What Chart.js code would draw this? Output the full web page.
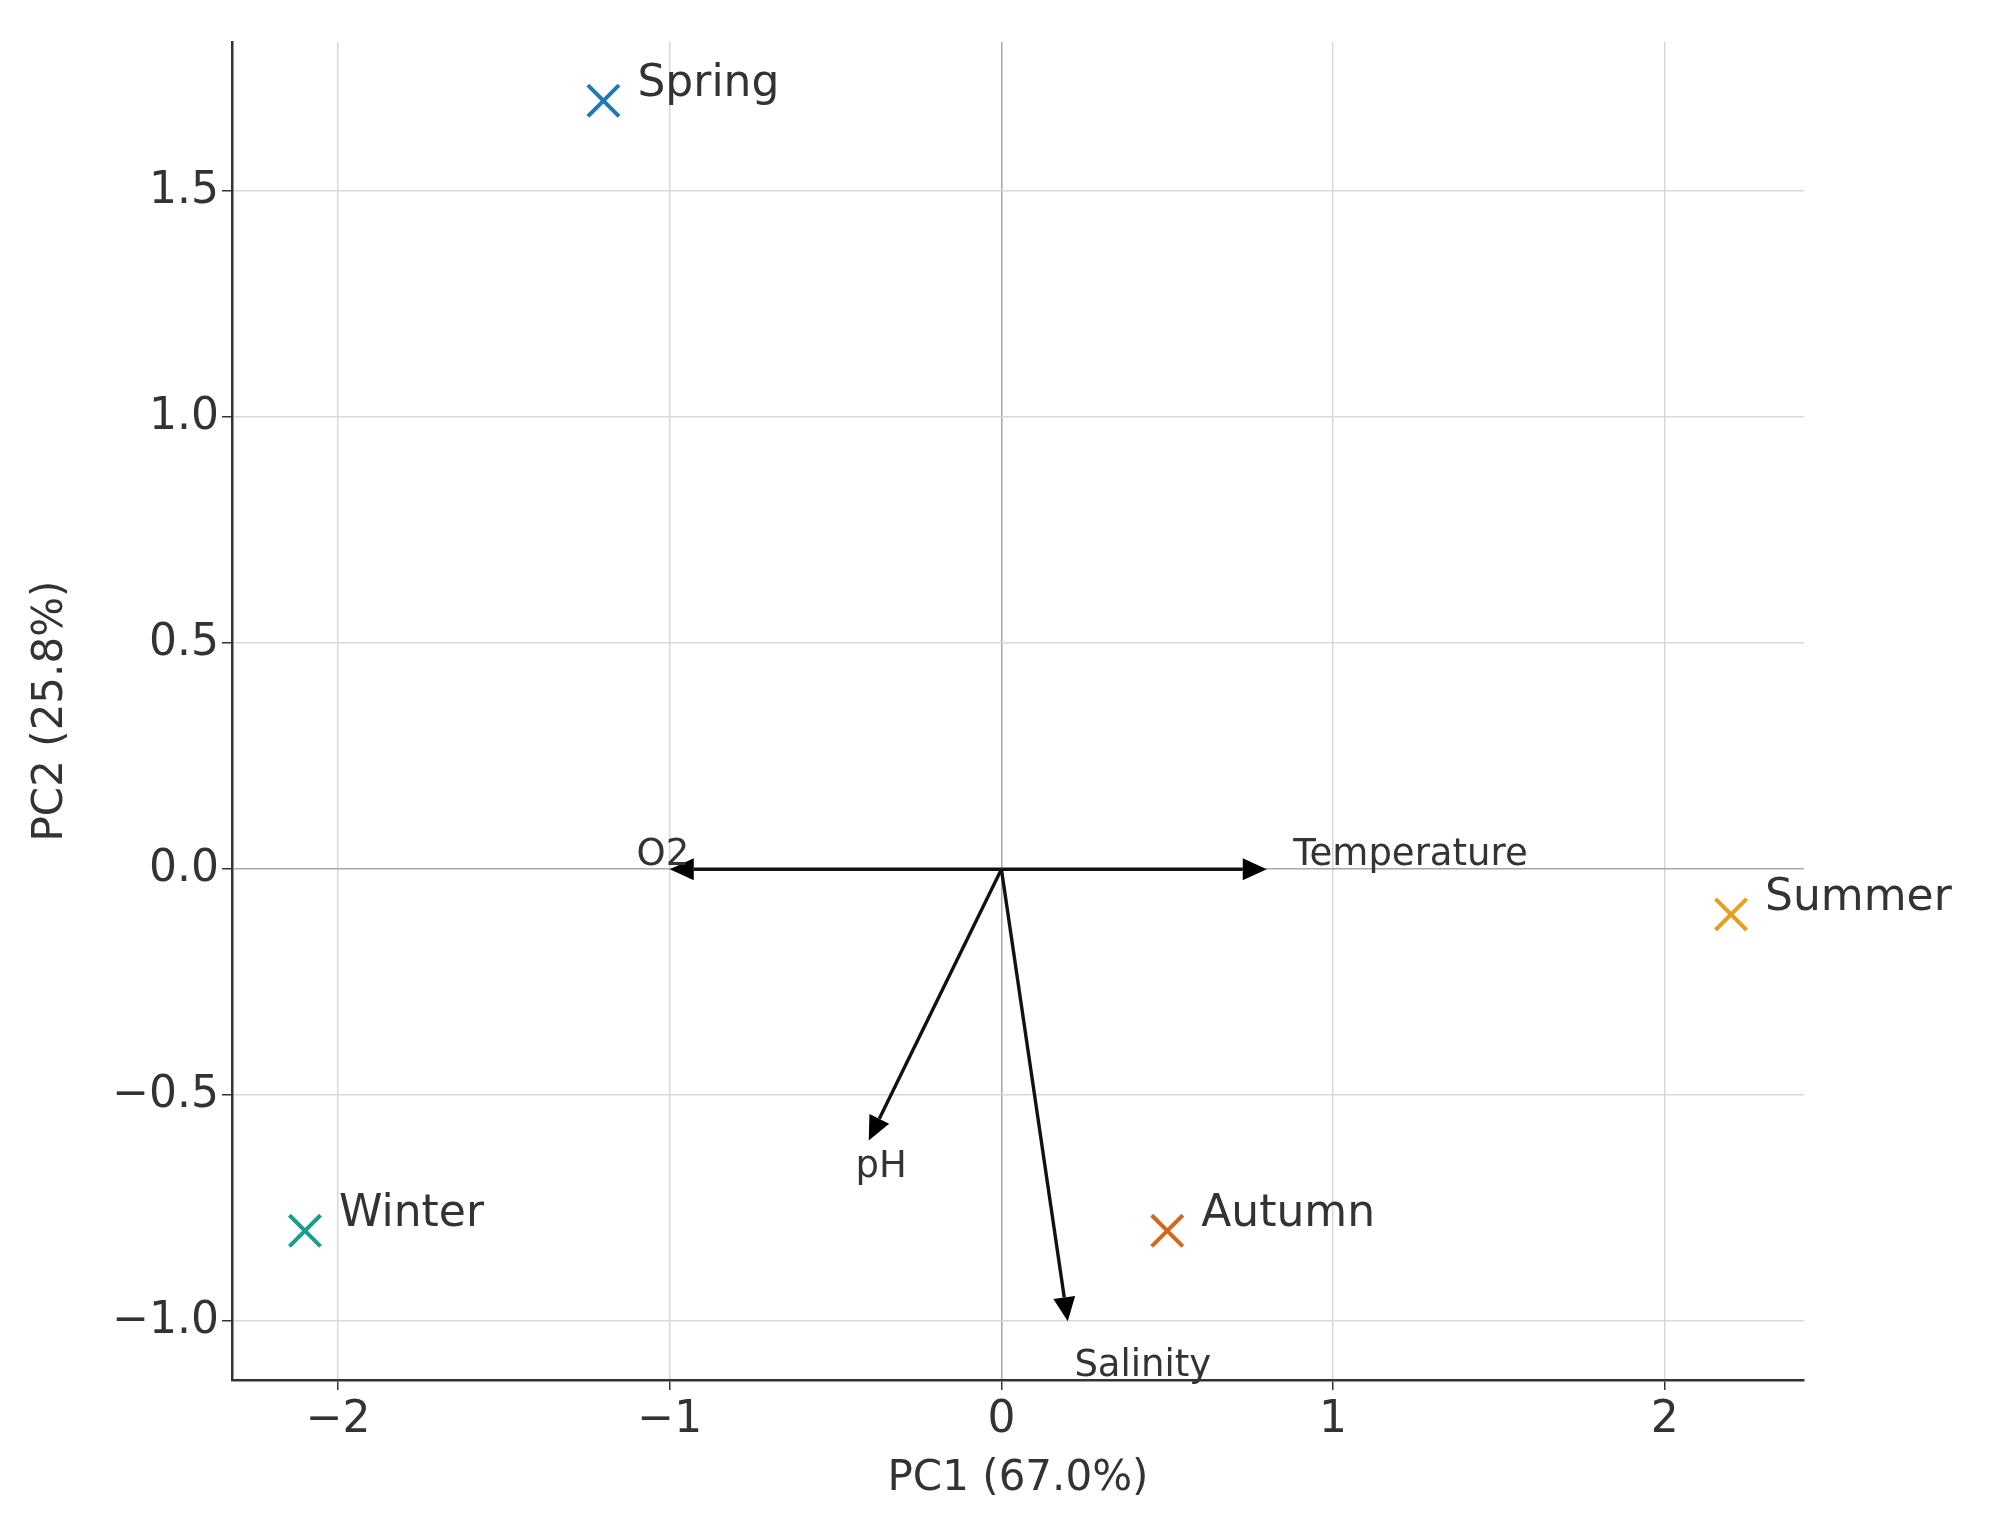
<!DOCTYPE html>
<html>
<head>
<meta charset="utf-8">
<script src="https://cdn.jsdelivr.net/npm/chart.js@4.4.0/dist/chart.umd.min.js"></script>
<style>
  body { margin: 0; background: #fff; }
  #wrap { width: 1989px; height: 1533px; }
</style>
</head>
<body>
<div id="wrap"><canvas id="grafico"></canvas></div>
<script>
// seasons (PCA scores)
const seasons = ["Spring", "Summer", "Autumn", "Winter"];
const pc1 = [-1.2, 2.2, 0.5, -2.1];
const pc2 = [1.7, -0.1, -0.8, -0.8];
const seasonColors = ["#1f78b4", "#e6a020", "#d2691e", "#17a086"];

// variable loadings
const variables = ["Temperature", "O2", "pH", "Salinity"];
const loadX = [0.8, -1.0, -0.4, 0.2];
const loadY = [0.0, 0.0, -0.6, -1.0];

const xTicks = [-2, -1, 0, 1, 2];
const yTicks = [-1.0, -0.5, 0.0, 0.5, 1.0, 1.5];

const fonte = "DejaVu Sans";
const corTexto = "#333";

function formatar(v) {
  return String(v).replace("-", "\u2212");
}

const biplotPlugin = {
  id: "biplot",
  afterDatasetsDraw(chart) {
    const ctx = chart.ctx;
    const x = chart.scales.x, y = chart.scales.y;
    const x0 = x.getPixelForValue(0), y0 = y.getPixelForValue(0);
    ctx.save();
    // arrows
    variables.forEach((nome, i) => {
      const x1 = x.getPixelForValue(loadX[i]);
      const y1 = y.getPixelForValue(loadY[i]);
      const ang = Math.atan2(y1 - y0, x1 - x0);
      const head = 24, w = 11;
      ctx.strokeStyle = "#111";
      ctx.fillStyle = "#000";
      ctx.lineWidth = 3.4;
      ctx.beginPath();
      ctx.moveTo(x0, y0);
      ctx.lineTo(x1 - head * Math.cos(ang), y1 - head * Math.sin(ang));
      ctx.stroke();
      ctx.beginPath();
      ctx.moveTo(x1, y1);
      ctx.lineTo(x1 - head * Math.cos(ang) + w * Math.sin(ang), y1 - head * Math.sin(ang) - w * Math.cos(ang));
      ctx.lineTo(x1 - head * Math.cos(ang) - w * Math.sin(ang), y1 - head * Math.sin(ang) + w * Math.cos(ang));
      ctx.closePath();
      ctx.fill();
      // label slightly beyond the tip
      ctx.font = "37px '" + fonte + "'";
      ctx.fillStyle = corTexto;
      ctx.textBaseline = "middle";
      ctx.textAlign = "left";
      const lx = x.getPixelForValue(loadX[i] * 1.1);
      const ly = y.getPixelForValue(loadY[i] * 1.1);
      ctx.fillText(nome, lx, ly - (loadY[i] === 0 ? 14 : 0));
    });
    // season labels
    ctx.font = "44px '" + fonte + "'";
    ctx.fillStyle = corTexto;
    ctx.textAlign = "left";
    ctx.textBaseline = "middle";
    seasons.forEach((nome, i) => {
      const px = x.getPixelForValue(pc1[i]);
      const py = y.getPixelForValue(pc2[i]);
      ctx.fillText(nome, px + 34, py - 16);
    });
    ctx.restore();
  }
};

const gridColor = ctx => ctx.tick && ctx.tick.value === 0 ? "#a8a8a8" : "#d8d8d8";
const gridDash = ctx => ctx.tick && ctx.tick.value === 0 ? [5, 3] : [2, 2];

new Chart(document.getElementById("grafico").getContext("2d"), {
  type: "scatter",
  data: {
    datasets: [{
      data: pc1.map((v, i) => ({ x: v, y: pc2[i] })),
      pointStyle: "crossRot",
      pointRadius: 22,
      pointHoverRadius: 22,
      borderWidth: 4,
      borderColor: seasonColors,
      backgroundColor: seasonColors
    }]
  },
  plugins: [biplotPlugin],
  options: {
    responsive: true,
    maintainAspectRatio: false,
    animation: false,
    layout: { padding: { top: 42, right: 185, left: 22, bottom: 25 } },
    plugins: { legend: { display: false }, tooltip: { enabled: false } },
    scales: {
      x: {
        min: -2.32, max: 2.42,
        afterBuildTicks: s => { s.ticks = xTicks.map(v => ({ value: v })); },
        afterFit: s => { s.height = 128; },
        ticks: { callback: v => formatar(v), font: { family: fonte, size: 44 }, color: corTexto, maxRotation: 0, padding: 4 },
        grid: { color: gridColor, lineWidth: 1.5, tickLength: 10, tickColor: "#333" },
        border: { color: "#333", width: 2.5, dash: [] },
        title: { display: true, text: "PC1 (67.0%)", font: { family: fonte, size: 42 }, color: corTexto, padding: { top: 0 } }
      },
      y: {
        min: -1.13, max: 1.83,
        afterBuildTicks: s => { s.ticks = yTicks.map(v => ({ value: v })); },
        afterFit: s => { s.width = 210; },
        ticks: { callback: v => formatar(v.toFixed(1)), font: { family: fonte, size: 44 }, color: corTexto },
        grid: { color: gridColor, lineWidth: 1.5, tickLength: 10, tickColor: "#333" },
        border: { color: "#333", width: 2.5 },
        title: { display: true, text: "PC2 (25.8%)", font: { family: fonte, size: 42 }, color: corTexto }
      }
    }
  }
});
// dotted grid: Chart.js v4 reads border.dash for axis line; use scriptable dash on grid via plugin
Chart.getChart("grafico").options.scales.x.border.dash = [];
</script>
<script>
// apply dotted grid lines
(function () {
  const c = Chart.getChart("grafico");
  c.options.scales.x.grid.borderDash = gridDash;
  c.options.scales.y.grid.borderDash = gridDash;
  c.options.scales.x.border.dash = [];
  c.options.scales.y.border.dash = [];
  c.options.scales.x.grid.tickBorderDash = [];
  c.options.scales.y.grid.tickBorderDash = [];
  c.update("none");
})();
</script>
</body>
</html>
